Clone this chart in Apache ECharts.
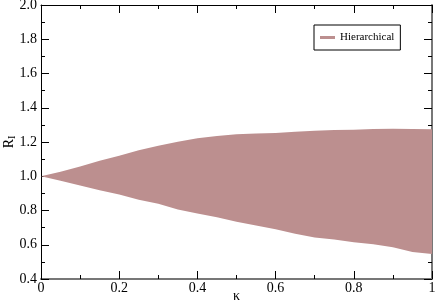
<!DOCTYPE html>
<html>
<head>
<meta charset="utf-8">
<script src="https://cdn.jsdelivr.net/npm/echarts@6/dist/echarts.min.js"></script>
<style>
  html, body { margin: 0; padding: 0; background: #fff; }
  #main { width: 436px; height: 305px; }
</style>
</head>
<body>
<div id="main"></div>
<script>
var kappa = [0, 0.05, 0.1, 0.15, 0.2, 0.25, 0.3, 0.35, 0.4, 0.45, 0.5,
             0.55, 0.6, 0.65, 0.7, 0.75, 0.8, 0.85, 0.9, 0.95, 1.0];
var upper = [1.0, 1.027, 1.057, 1.09, 1.12, 1.152, 1.178, 1.202, 1.222, 1.235, 1.245,
             1.249, 1.253, 1.26, 1.265, 1.27, 1.272, 1.276, 1.278, 1.276, 1.275];
var lower = [1.0, 0.973, 0.946, 0.918, 0.893, 0.863, 0.84, 0.806, 0.782, 0.76, 0.735,
             0.713, 0.69, 0.664, 0.643, 0.63, 0.615, 0.603, 0.585, 0.558, 0.546];
var xTickLabels = ['0', '0.2', '0.4', '0.6', '0.8', '1'];
var yTickLabels = ['0.4', '0.6', '0.8', '1.0', '1.2', '1.4', '1.6', '1.8', '2.0'];
var seriesName = 'Hierarchical';

var fillColor = '#bc8f8f';
var font = 'Liberation Serif';

var bandData = kappa.map(function (k, i) { return [k, lower[i], upper[i]]; });

var myChart = echarts.init(document.getElementById('main'));

function axisX(pos) {
    var bottom = pos === 'bottom';
    return {
        type: 'value',
        position: pos,
        min: 0,
        max: 1,
        interval: 0.2,
        name: bottom ? 'κ' : '',
        nameLocation: 'middle',
        nameGap: 10,
        nameMoveOverlap: false,
        nameTextStyle: { fontFamily: font, fontSize: 14, color: '#000' },
        axisLine: { show: true, onZero: false, lineStyle: { color: bottom ? '#777' : '#000', width: bottom ? 2 : 1 } },
        axisTick: { show: true, inside: true, length: 8, lineStyle: { color: '#000' } },
        minorTick: { show: true, splitNumber: 2, length: 4, lineStyle: { color: '#000' } },
        splitLine: { show: false },
        axisLabel: {
            show: bottom,
            margin: 2,
            fontFamily: font,
            fontSize: 14,
            color: '#000',
            formatter: function (v, i) { return xTickLabels[i]; }
        }
    };
}

function axisY(pos) {
    var left = pos === 'left';
    return {
        type: 'value',
        position: pos,
        min: 0.4,
        max: 2.0,
        interval: 0.2,
        name: left ? '{a|R}{b|I}' : '',
        nameLocation: 'middle',
        nameRotate: 90,
        nameGap: 24,
        nameMoveOverlap: false,
        nameTextStyle: {
            rich: {
                a: { fontFamily: font, fontSize: 14, color: '#000' },
                b: { fontFamily: font, fontSize: 10, color: '#000', verticalAlign: 'bottom', padding: [6, 0, 0, 0] }
            }
        },
        axisLine: { show: true, onZero: false, lineStyle: { color: left ? '#000' : '#777', width: left ? 1 : 2 } },
        axisTick: { show: true, inside: true, length: 8, lineStyle: { color: '#000' } },
        minorTick: { show: true, splitNumber: 2, length: 4, lineStyle: { color: '#000' } },
        splitLine: { show: false },
        axisLabel: {
            show: left,
            margin: 4,
            fontFamily: font,
            fontSize: 14,
            color: '#000',
            formatter: function (v, i) { return yTickLabels[i]; }
        }
    };
}

// the whole band is drawn once, as a polygon: upper edge then lower edge backwards
function renderBand(params, api) {
    if (params.dataIndex !== 0) return;
    var pts = [];
    for (var i = 0; i < kappa.length; i++) pts.push(api.coord([kappa[i], upper[i]]));
    for (var j = kappa.length - 1; j >= 0; j--) pts.push(api.coord([kappa[j], lower[j]]));
    return {
        type: 'polygon',
        shape: { points: pts },
        style: { fill: fillColor }
    };
}

var option = {
    backgroundColor: '#fff',
    animation: false,
    grid: { left: 41, right: 4, top: 5, bottom: 26, outerBoundsMode: 'none', containLabel: false },
    legend: {
        data: [seriesName],
        left: 314,
        top: 25,
        icon: 'rect',
        itemWidth: 15,
        itemHeight: 3,
        itemGap: 6,
        padding: [7, 6, 7, 6],
        borderColor: '#000',
        borderWidth: 1,
        backgroundColor: '#fff',
        textStyle: { fontFamily: font, fontSize: 11, color: '#000' }
    },
    xAxis: [axisX('bottom'), axisX('top')],
    yAxis: [axisY('left'), axisY('right')],
    series: [
        {
            name: seriesName,
            type: 'custom',
            data: bandData,
            encode: { x: 0, y: [1, 2] },
            itemStyle: { color: fillColor },
            renderItem: renderBand,
            z: 1
        }
    ]
};

myChart.setOption(option);
</script>
</body>
</html>
